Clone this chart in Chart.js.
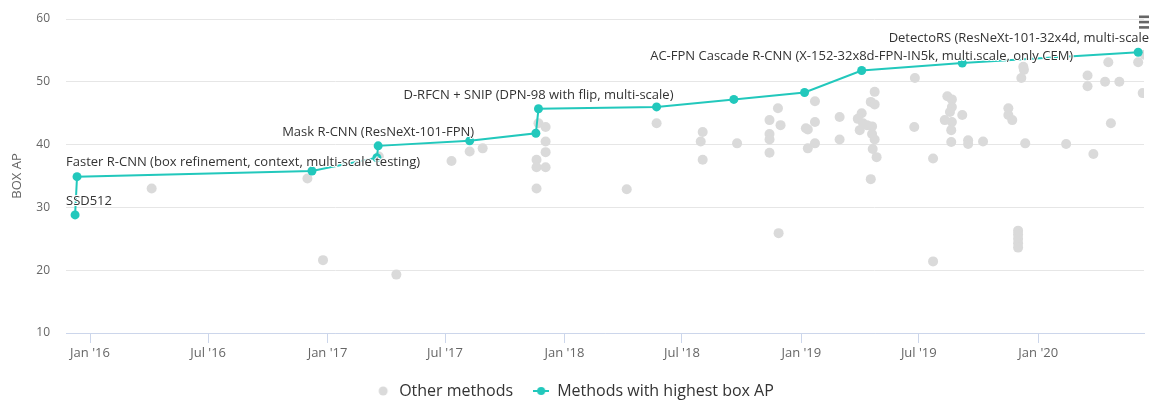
<!DOCTYPE html>
<html>
<head>
<meta charset="utf-8">
<script src="https://cdn.jsdelivr.net/npm/chart.js@4.4.1/dist/chart.umd.min.js"></script>
<style>
  html, body { margin: 0; padding: 0; background: #fff; }
</style>
</head>
<body>
<canvas id="boxApChart" width="1149" height="401"></canvas>
<script>
// Other methods (grey dots)
const otherDates = [
  '2016-04-05', '2016-12-01', '2016-12-25', '2017-04-17', '2017-03-21', '2017-07-11', '2017-08-08', '2017-08-28',
  '2017-11-22', '2017-12-03', '2017-12-03', '2017-12-03', '2017-11-19', '2017-11-19', '2017-12-03', '2017-11-19',
  '2018-04-07', '2018-05-23', '2018-08-02', '2018-07-30', '2018-08-02', '2018-09-24', '2018-11-13', '2018-11-26',
  '2018-11-30', '2018-11-13', '2018-11-13', '2018-11-13', '2018-11-27', '2019-01-22', '2019-01-08', '2019-01-11',
  '2019-01-22', '2019-01-11', '2019-01-22', '2019-03-01', '2019-03-01', '2019-04-24', '2019-04-18', '2019-04-24',
  '2019-04-04', '2019-03-29', '2019-04-06', '2019-04-12', '2019-04-20', '2019-04-01', '2019-04-20', '2019-04-24',
  '2019-04-21', '2019-04-27', '2019-04-18', '2019-06-25', '2019-06-24', '2019-07-23', '2019-07-23', '2019-08-14',
  '2019-08-21', '2019-08-21', '2019-08-18', '2019-08-10', '2019-08-21', '2019-08-20', '2019-08-20', '2019-09-06',
  '2019-09-15', '2019-09-15', '2019-10-08', '2019-12-09', '2019-12-10', '2019-12-06', '2019-11-16', '2019-11-16',
  '2019-11-22', '2019-12-12', '2019-12-01', '2019-12-01', '2019-12-01', '2019-12-01', '2019-12-01', '2020-02-13',
  '2020-03-17', '2020-03-17', '2020-03-26', '2020-04-13', '2020-05-05', '2020-04-18', '2020-04-22', '2020-06-03',
  '2020-06-13', '2020-06-10'
];
const otherAP = [
  33.0, 34.6, 21.6, 19.3, 38.1, 37.4, 38.9, 39.4,
  43.4, 42.8, 40.5, 38.8, 37.6, 36.4, 36.4, 33.0,
  32.9, 43.4, 42.0, 40.5, 37.6, 40.2, 43.9, 45.8,
  43.1, 41.7, 40.8, 38.7, 25.9, 46.9, 42.6, 42.4,
  43.6, 39.4, 40.2, 44.4, 40.8, 48.4, 46.8, 46.4,
  45.0, 44.1, 43.4, 43.1, 42.9, 42.3, 41.7, 40.8,
  39.3, 38.0, 34.5, 50.6, 42.8, 37.8, 21.4, 47.7,
  47.2, 46.0, 45.2, 43.9, 43.6, 42.3, 40.4, 44.7,
  40.7, 40.1, 40.5, 52.4, 51.9, 50.6, 45.8, 44.7,
  43.9, 40.2, 26.3, 25.7, 25.0, 24.3, 23.6, 40.1,
  51.0, 49.3, 38.5, 50.0, 50.0, 53.1, 43.4, 53.1,
  54.3, 48.2
];

// Methods with highest box AP (teal line)
const bestDates = [
  '2015-12-09', '2015-12-12', '2016-12-08', '2017-03-18', '2017-03-20', '2017-08-08', '2017-11-18',
  '2017-11-22', '2018-05-23', '2018-09-19', '2019-01-06', '2019-04-04', '2019-09-06', '2020-06-03'
];
const bestAP = [28.8, 34.9, 35.8, 37.9, 39.8, 40.6, 41.8, 45.7, 46.0, 47.2, 48.3, 51.8, 53.0, 54.7];
const bestNames = [
  'SSD512',
  'Faster R-CNN (box refinement, context, multi-scale testing)',
  '',
  '',
  'Mask R-CNN (ResNeXt-101-FPN)',
  '',
  '',
  'D-RFCN + SNIP (DPN-98 with flip, multi-scale)',
  '',
  '',
  '',
  'AC-FPN Cascade R-CNN (X-152-32x8d-FPN-IN5k, multi.scale, only CEM)',
  '',
  'DetectoRS (ResNeXt-101-32x4d, multi-scale)'
];

// axis
const tickDates = ['2016-01-01', '2016-07-01', '2017-01-01', '2017-07-01', '2018-01-01', '2018-07-01', '2019-01-01', '2019-07-01', '2020-01-01'];
const tickLabels = ["Jan '16", "Jul '16", "Jan '17", "Jul '17", "Jan '18", "Jul '18", "Jan '19", "Jul '19", "Jan '20"];
const xRange = ['2015-11-25', '2020-06-12'];
const yRange = [10, 60];

const TEAL = '#22c8bc';
const GREY = '#dadada';
const FONT = "'Open Sans', sans-serif";

const day = s => Date.parse(s + 'T00:00:00Z');

// legend icons
function makeIcon(withLine, color) {
  const c = document.createElement('canvas');
  c.width = 16; c.height = 12;
  const g = c.getContext('2d');
  if (withLine) {
    g.strokeStyle = color; g.lineWidth = 2;
    g.beginPath(); g.moveTo(0, 6); g.lineTo(16, 6); g.stroke();
  }
  g.fillStyle = color;
  g.beginPath(); g.arc(8, 6, withLine ? 4 : 4.5, 0, Math.PI * 2); g.fill();
  return c;
}
const legendIcons = [makeIcon(false, GREY), makeIcon(true, TEAL)];

// names above the best points, kept inside the chart
const pointLabels = {
  id: 'pointLabels',
  afterDatasetsDraw(chart) {
    const meta = chart.getDatasetMeta(1);
    const ctx = chart.ctx;
    ctx.save();
    ctx.font = '13px ' + FONT;
    ctx.textBaseline = 'middle';
    ctx.textAlign = 'left';
    ctx.lineJoin = 'round';
    meta.data.forEach((pt, i) => {
      const name = bestNames[i];
      if (!name) return;
      const w = ctx.measureText(name).width;
      let x = pt.x - w / 2;
      x = Math.min(x, chart.width + 4 - w);
      x = Math.max(x, chart.chartArea.left);
      const y = pt.y - 14;
      ctx.lineWidth = 2;
      ctx.strokeStyle = '#fff';
      ctx.strokeText(name, x, y);
      ctx.fillStyle = '#333';
      ctx.fillText(name, x, y);
    });
    ctx.restore();
  }
};

// context menu icon in the corner
const menuIcon = {
  id: 'menuIcon',
  afterDraw(chart) {
    const ctx = chart.ctx;
    ctx.save();
    ctx.fillStyle = '#666';
    for (let i = 0; i < 3; i++) {
      ctx.fillRect(chart.width - 10, 15.5 + i * 5.3, 14, 2.6);
    }
    ctx.restore();
  }
};

// shorter legend box so it sits lower
const legendHeight = {
  id: 'legendHeight',
  beforeLayout(chart) {
    const legend = chart.legend;
    if (legend && !legend._patched) {
      const fit = legend.fit;
      legend.fit = function () { fit.call(this); this.height = 38; };
      legend._patched = true;
    }
  }
};

new Chart(document.getElementById('boxApChart'), {
  type: 'scatter',
  data: {
    datasets: [
      {
        label: 'Other methods',
        data: otherDates.map((d, i) => ({ x: day(d), y: otherAP[i] })),
        backgroundColor: GREY,
        borderWidth: 0,
        pointRadius: 5,
        order: 2
      },
      {
        label: 'Methods with highest box AP',
        data: bestDates.map((d, i) => ({ x: day(d), y: bestAP[i] })),
        showLine: true,
        borderColor: TEAL,
        backgroundColor: TEAL,
        borderWidth: 2,
        pointRadius: 4.5,
        pointBorderWidth: 0,
        order: 1
      }
    ]
  },
  options: {
    responsive: false,
    animation: false,
    layout: { padding: { top: 19, left: 0, right: 0, bottom: 0 } },
    scales: {
      x: {
        type: 'linear',
        min: day(xRange[0]),
        max: day(xRange[1]),
        afterBuildTicks: s => { s.ticks = tickDates.map(d => ({ value: day(d) })); },
        afterFit: s => { s.height = 30; },
        ticks: {
          autoSkip: false,
          maxRotation: 0,
          padding: 2,
          color: '#666',
          font: { family: FONT, size: 13 },
          callback: (v, i) => tickLabels[i]
        },
        grid: { drawOnChartArea: false, tickLength: 10, color: '#ccd6eb' },
        border: { color: '#ccd6eb', width: 1 }
      },
      y: {
        min: yRange[0],
        max: yRange[1],
        afterFit: s => { s.width = 66; },
        ticks: {
          stepSize: 10,
          padding: 16,
          color: '#666',
          font: { family: FONT, size: 12, lineHeight: 0.4 }
        },
        grid: { color: '#e6e6e6', drawTicks: false },
        border: { display: false },
        title: {
          display: true,
          text: 'BOX AP',
          color: '#666',
          padding: { top: 9, bottom: 0 },
          font: { family: FONT, size: 13 }
        }
      }
    },
    plugins: {
      legend: {
        position: 'bottom',
        labels: {
          usePointStyle: true,
          pointStyleWidth: 16,
          padding: 20,
          color: '#333',
          font: { family: FONT, size: 16 },
          sort: (a, b) => a.datasetIndex - b.datasetIndex,
          generateLabels(chart) {
            const items = Chart.defaults.plugins.legend.labels.generateLabels(chart);
            items.forEach(it => { it.pointStyle = legendIcons[it.datasetIndex]; });
            return items;
          }
        }
      },
      tooltip: { enabled: false }
    }
  },
  plugins: [pointLabels, menuIcon, legendHeight]
});
</script>
</body>
</html>
